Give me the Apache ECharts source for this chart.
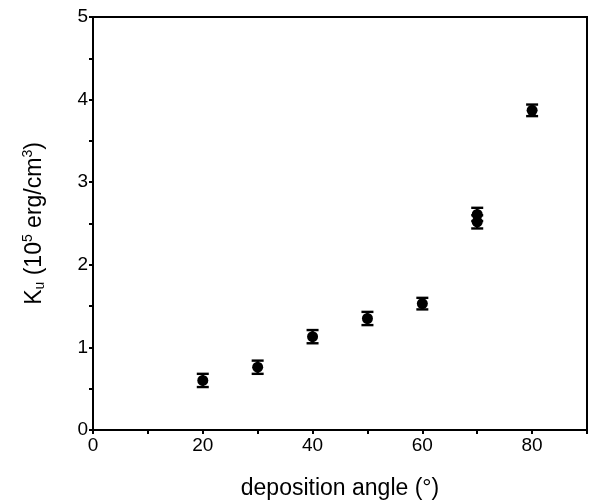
<!DOCTYPE html>
<html>
<head>
<meta charset="utf-8">
<script src="https://cdn.jsdelivr.net/npm/echarts@6/dist/echarts.min.js"></script>
<style>
html,body{margin:0;padding:0;background:#fff;}
#chart{width:593px;height:503px;}
</style>
</head>
<body>
<div id="chart"></div>
<script>
var angles = [20, 30, 40, 50, 60, 70, 70, 80];
var kuValues = [0.60, 0.76, 1.13, 1.35, 1.53, 2.61, 2.52, 3.87];
var kuErrors = [0.08, 0.08, 0.08, 0.08, 0.07, 0.08, 0.08, 0.07];
var xTicks = [0, 20, 40, 60, 80];
var yTicks = [0, 1, 2, 3, 4, 5];

var points = angles.map(function (a, i) { return [a, kuValues[i]]; });
var errData = angles.map(function (a, i) { return [a, kuValues[i] - kuErrors[i], kuValues[i] + kuErrors[i]]; });

var font = 'Liberation Sans, Arial, sans-serif';
var chart = echarts.init(document.getElementById('chart'), null, {renderer: 'canvas'});
chart.setOption({
  animation: false,
  grid: {left: 93, top: 17, right: 6, bottom: 73, outerBoundsMode: 'none', containLabel: false,
         show: true, borderColor: '#000', borderWidth: 2, backgroundColor: 'transparent'},
  xAxis: {
    type: 'value', min: 0, max: 90, interval: 10,
    name: 'deposition angle (°)', nameLocation: 'middle', nameGap: 47,
    nameTextStyle: {fontFamily: font, fontSize: 23, color: '#000'},
    axisLine: {show: true, onZero: false, lineStyle: {color: '#000', width: 2}},
    axisTick: {show: true, inside: false, length: 4, lineStyle: {color: '#000', width: 2}},
    splitLine: {show: false},
    axisLabel: {
      fontFamily: font, fontSize: 19, color: '#000', margin: 6,
      formatter: function (v) { return xTicks.indexOf(v) >= 0 ? String(v) : ''; }
    }
  },
  yAxis: {
    type: 'value', min: 0, max: 5, interval: 0.5,
    name: '{n|K}{s|u}{n| (10}{p|5}{n| erg/cm}{p|3}{n|)}',
    nameLocation: 'middle', nameGap: 44,
    nameTextStyle: {
      fontFamily: font, fontSize: 23, color: '#000',
      rich: {
        n: {fontFamily: font, fontSize: 23, color: '#000', lineHeight: 28, verticalAlign: 'middle'},
        s: {fontFamily: font, fontSize: 14, color: '#000', padding: [11, 0, 0, 0], verticalAlign: 'middle'},
        p: {fontFamily: font, fontSize: 14, color: '#000', padding: [0, 0, 13, 0], verticalAlign: 'middle'}
      }
    },
    axisLine: {show: true, lineStyle: {color: '#000', width: 2}},
    axisTick: {show: true, inside: false, length: 4, lineStyle: {color: '#000', width: 2}},
    splitLine: {show: false},
    axisLabel: {
      fontFamily: font, fontSize: 19, color: '#000', margin: 5,
      formatter: function (v) { return yTicks.indexOf(v) >= 0 ? String(v) : ''; }
    }
  },
  series: [
    {
      type: 'custom',
      data: errData,
      renderItem: function (params, api) {
        var x = api.value(0);
        var lo = api.coord([x, api.value(1)]);
        var hi = api.coord([x, api.value(2)]);
        var hw = 6;
        var st = {stroke: '#000', lineWidth: 2.4, fill: null};
        return {
          type: 'group',
          children: [
            {type: 'line', shape: {x1: lo[0], y1: lo[1], x2: hi[0], y2: hi[1]}, style: st},
            {type: 'line', shape: {x1: lo[0] - hw, y1: lo[1], x2: lo[0] + hw, y2: lo[1]}, style: st},
            {type: 'line', shape: {x1: hi[0] - hw, y1: hi[1], x2: hi[0] + hw, y2: hi[1]}, style: st}
          ]
        };
      },
      z: 3
    },
    {
      type: 'scatter',
      data: points,
      symbol: 'circle',
      symbolSize: 11,
      itemStyle: {color: '#000', opacity: 1},
      z: 4
    }
  ]
});
</script>
</body>
</html>
